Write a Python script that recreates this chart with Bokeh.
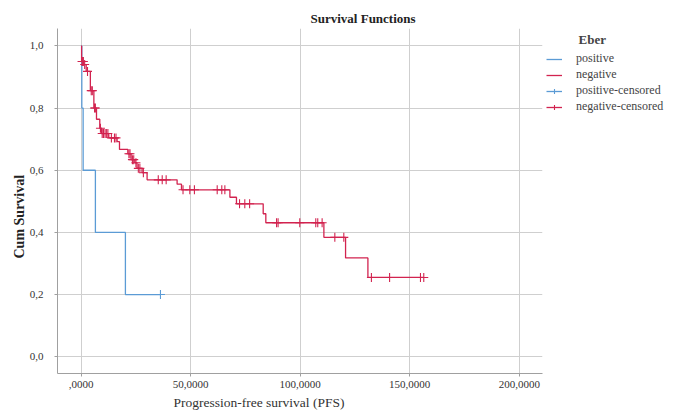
import math
from bokeh.plotting import figure
from bokeh.models import Range1d, FixedTicker, Legend, LegendItem, Title
from bokeh.embed import file_html
from bokeh.resources import INLINE

# ---- data ----
x_ticks = [0, 50, 100, 150, 200]
x_tick_labels = [",0000", "50,0000", "100,0000", "150,0000", "200,0000"]
y_ticks = [0.0, 0.2, 0.4, 0.6, 0.8, 1.0]
y_tick_labels = ["0,0", "0,2", "0,4", "0,6", "0,8", "1,0"]

pos_time = [0.0, 0.3, 0.9, 6.5, 20.2]
pos_surv = [1.0, 0.8, 0.6, 0.4, 0.2]
pos_end = 36.2
pos_cens_time = [36.2]

neg_time = [0.0, 0.2, 1.2, 2.3, 4.2, 5.8, 7.0, 8.5, 9.3, 12.6, 16.4, 17.5, 21.3,
            22.8, 24.5, 25.5, 27.8, 30.1, 43.8, 45.8, 67.9, 70.9, 83.1, 84.3,
            110.8, 120.7, 130.9]
neg_surv = [1.0, 0.95, 0.94, 0.918, 0.856, 0.80, 0.764, 0.735, 0.718, 0.704, 0.692,
            0.667, 0.653, 0.634, 0.624, 0.606, 0.592, 0.569, 0.555, 0.537, 0.513,
            0.492, 0.46, 0.431, 0.384, 0.318, 0.255]
neg_end = 156.4
neg_cens_time = [0.4, 0.7, 1.0, 1.6, 2.9, 4.6, 5.1, 6.1, 6.5, 8.8, 9.6, 10.2, 10.9,
                 11.5, 12.2, 13.8, 15.2, 15.9, 21.8, 22.3, 23.4, 24.0, 25.0, 26.1,
                 26.8, 28.4, 35.2, 37.0, 38.8, 46.5, 49.6, 51.7, 62.1, 64.2, 65.6,
                 72.3, 74.7, 76.9, 89.2, 89.9, 99.8, 107.1, 108.0, 110.0, 115.8,
                 119.9, 132.5, 140.8, 154.9, 156.4]

RED = "#d2234f"
BLUE = "#5b9bd5"
SERIF = "Liberation Serif"


def surv_at(times, survs, t):
    s = survs[0]
    for ti, si in zip(times, survs):
        if ti <= t:
            s = si
    return s


p = figure(frame_width=485, frame_height=345, output_backend="svg",
           toolbar_location=None, title=None,
           x_range=Range1d(-10.8, 210.6), y_range=Range1d(-0.054, 1.056),
           min_border_left=57, min_border_right=140, min_border_top=28,
           min_border_bottom=30)
p.outline_line_color = None
p.background_fill_color = "white"

p.axis.axis_line_color = "#a0a0a0"
p.axis.major_tick_line_color = "#a0a0a0"
p.axis.major_tick_out = 3
p.axis.major_tick_in = 0
p.axis.minor_tick_line_color = None
p.axis.major_label_text_font = SERIF
p.axis.major_label_text_font_size = "11px"
p.axis.major_label_text_color = "#333333"

p.xaxis.ticker = FixedTicker(ticks=x_ticks)
p.xaxis.major_label_overrides = {t: l for t, l in zip(x_ticks, x_tick_labels)}
p.xaxis.major_label_standoff = 4
p.yaxis.ticker = FixedTicker(ticks=y_ticks)
p.yaxis.major_label_overrides = {t: l for t, l in zip(y_ticks, y_tick_labels)}
p.yaxis.major_label_standoff = 11

p.xgrid.grid_line_color = "#cfcfcf"
p.ygrid.grid_line_color = "#cfcfcf"

pos_line = p.step(pos_time + [pos_end], pos_surv + [pos_surv[-1]], mode="after",
                  line_color=BLUE, line_width=1.3)
neg_line = p.step(neg_time + [neg_end], neg_surv + [neg_surv[-1]], mode="after",
                  line_color=RED, line_width=1.3)
pos_c = p.scatter(pos_cens_time, [surv_at(pos_time, pos_surv, t) for t in pos_cens_time],
                  marker="cross", size=9, line_color=BLUE, line_width=1.1)
neg_c = p.scatter(neg_cens_time, [surv_at(neg_time, neg_surv, t) for t in neg_cens_time],
                  marker="cross", size=9, line_color=RED, line_width=1.1)

p.add_layout(Title(text="Survival Functions", text_font=SERIF, text_font_style="bold",
                   text_font_size="13px", align="left", offset=253, standoff=5,
                   text_color="#222222"), "above")
p.add_layout(Title(text="Cum Survival", text_font=SERIF, text_font_style="bold",
                   text_font_size="14px", align="left", offset=115, standoff=0,
                   text_color="#222222"), "left")
p.add_layout(Title(text="Progression-free survival (PFS)", text_font=SERIF,
                   text_font_style="normal", text_font_size="13.5px", align="left",
                   offset=116, standoff=5, text_color="#333333"), "below")

legend = Legend(items=[
    LegendItem(label="positive", renderers=[pos_line]),
    LegendItem(label="negative", renderers=[neg_line]),
    LegendItem(label="positive-censored", renderers=[pos_line, pos_c]),
    LegendItem(label="negative-censored", renderers=[neg_line, neg_c]),
], location="top_left")
legend.title = "\u2003\u2003\u2002Eber"
legend.title_text_font = SERIF
legend.title_text_font_style = "bold"
legend.title_text_font_size = "13px"
legend.title_standoff = 3
legend.label_text_font = SERIF
legend.label_text_font_size = "12px"
legend.label_text_line_height = 0.95
legend.label_height = 12
legend.glyph_height = 12
legend.glyph_width = 16
legend.label_standoff = 14
legend.spacing = 1
legend.padding = 10
legend.margin = 4
legend.border_line_color = None
legend.background_fill_alpha = 0
p.add_layout(legend, "right")

open("out.html", "w").write(file_html(p, INLINE))
